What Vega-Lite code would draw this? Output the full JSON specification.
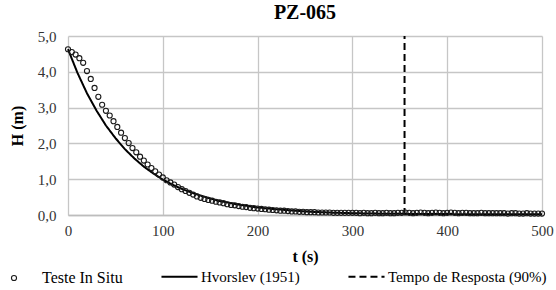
{
"$schema": "https://vega.github.io/schema/vega-lite/v6.json",
"width": 474,
"height": 179,
"autosize": {"type": "none"},
"padding": {"left": 68, "top": 36, "right": 14, "bottom": 75},
"background": "white",
"title": {"text": "PZ-065", "font": "Liberation Serif", "fontSize": 20, "fontWeight": "bold", "color": "black", "anchor": "middle", "offset": 6},
"config": {
  "view": {"stroke": null},
  "axis": {"ticks": false, "labelOverlap": false, "labelFlush": false, "labelFont": "Liberation Serif", "labelFontSize": 15, "labelColor": "#333333", "titleFont": "Liberation Serif", "titleFontSize": 16, "titleFontWeight": "bold", "titleColor": "black"},
  "legend": {"labelFont": "Liberation Serif", "labelFontSize": 15, "labelColor": "black", "title": null}
},
"datasets": {
  "pts": [
{"t":0,"H":4.63},{"t":4,"H":4.55},{"t":8,"H":4.48},{"t":12,"H":4.38},{"t":16,"H":4.25},{"t":20,"H":4.02},{"t":24,"H":3.8},{"t":28,"H":3.55},{"t":32,"H":3.3},{"t":36,"H":3.08},
{"t":40,"H":2.91},{"t":44,"H":2.78},{"t":48,"H":2.62},{"t":52,"H":2.46},{"t":56,"H":2.3},{"t":60,"H":2.15},{"t":64,"H":2.01},{"t":68,"H":1.87},{"t":72,"H":1.75},{"t":76,"H":1.63},
{"t":80,"H":1.52},{"t":84,"H":1.41},{"t":88,"H":1.31},{"t":92,"H":1.22},{"t":96,"H":1.13},{"t":100,"H":1.05},{"t":104,"H":0.97},{"t":108,"H":0.91},{"t":112,"H":0.85},{"t":116,"H":0.78},
{"t":120,"H":0.72},{"t":124,"H":0.67},{"t":128,"H":0.62},{"t":132,"H":0.57},{"t":136,"H":0.52},{"t":140,"H":0.48},{"t":144,"H":0.45},{"t":148,"H":0.42},{"t":152,"H":0.4},{"t":156,"H":0.37},
{"t":160,"H":0.35},{"t":164,"H":0.33},{"t":168,"H":0.3},{"t":172,"H":0.28},{"t":176,"H":0.27},{"t":180,"H":0.25},{"t":184,"H":0.23},{"t":188,"H":0.22},{"t":192,"H":0.2},{"t":196,"H":0.19},
{"t":200,"H":0.18},{"t":204,"H":0.17},{"t":208,"H":0.16},{"t":212,"H":0.15},{"t":216,"H":0.14},{"t":220,"H":0.13},{"t":224,"H":0.12},{"t":228,"H":0.12},{"t":232,"H":0.11},{"t":236,"H":0.1},
{"t":240,"H":0.1},{"t":244,"H":0.09},{"t":248,"H":0.09},{"t":252,"H":0.08},{"t":256,"H":0.08},{"t":260,"H":0.08},{"t":264,"H":0.07},{"t":268,"H":0.07},{"t":272,"H":0.07},{"t":276,"H":0.07},
{"t":280,"H":0.06},{"t":284,"H":0.06},{"t":288,"H":0.06},{"t":292,"H":0.06},{"t":296,"H":0.06},{"t":300,"H":0.06},{"t":304,"H":0.06},{"t":308,"H":0.05},{"t":312,"H":0.06},{"t":316,"H":0.05},
{"t":320,"H":0.05},{"t":324,"H":0.06},{"t":328,"H":0.05},{"t":332,"H":0.05},{"t":336,"H":0.06},{"t":340,"H":0.05},{"t":344,"H":0.05},{"t":348,"H":0.06},{"t":352,"H":0.06},{"t":356,"H":0.07},
{"t":360,"H":0.06},{"t":364,"H":0.05},{"t":368,"H":0.06},{"t":372,"H":0.07},{"t":376,"H":0.06},{"t":380,"H":0.05},{"t":384,"H":0.06},{"t":388,"H":0.07},{"t":392,"H":0.06},{"t":396,"H":0.05},
{"t":400,"H":0.06},{"t":404,"H":0.07},{"t":408,"H":0.06},{"t":412,"H":0.05},{"t":416,"H":0.06},{"t":420,"H":0.06},{"t":424,"H":0.05},{"t":428,"H":0.05},{"t":432,"H":0.05},{"t":436,"H":0.06},
{"t":440,"H":0.05},{"t":444,"H":0.05},{"t":448,"H":0.05},{"t":452,"H":0.05},{"t":456,"H":0.05},{"t":460,"H":0.05},{"t":464,"H":0.04},{"t":468,"H":0.05},{"t":472,"H":0.05},{"t":476,"H":0.04},
{"t":480,"H":0.04},{"t":484,"H":0.05},{"t":488,"H":0.04},{"t":492,"H":0.04},{"t":496,"H":0.04},{"t":500,"H":0.04}
  ],
  "lines": [
{"t":0,"H":4.63,"series":"Hvorslev (1951)"},{"t":10,"H":3.97,"series":"Hvorslev (1951)"},{"t":20,"H":3.4,"series":"Hvorslev (1951)"},{"t":30,"H":2.92,"series":"Hvorslev (1951)"},{"t":40,"H":2.5,"series":"Hvorslev (1951)"},
{"t":50,"H":2.15,"series":"Hvorslev (1951)"},{"t":60,"H":1.84,"series":"Hvorslev (1951)"},{"t":70,"H":1.58,"series":"Hvorslev (1951)"},{"t":80,"H":1.35,"series":"Hvorslev (1951)"},{"t":90,"H":1.16,"series":"Hvorslev (1951)"},
{"t":100,"H":0.99,"series":"Hvorslev (1951)"},{"t":110,"H":0.85,"series":"Hvorslev (1951)"},{"t":120,"H":0.73,"series":"Hvorslev (1951)"},{"t":130,"H":0.63,"series":"Hvorslev (1951)"},{"t":140,"H":0.54,"series":"Hvorslev (1951)"},
{"t":150,"H":0.46,"series":"Hvorslev (1951)"},{"t":160,"H":0.39,"series":"Hvorslev (1951)"},{"t":170,"H":0.34,"series":"Hvorslev (1951)"},{"t":180,"H":0.29,"series":"Hvorslev (1951)"},{"t":190,"H":0.25,"series":"Hvorslev (1951)"},
{"t":200,"H":0.21,"series":"Hvorslev (1951)"},{"t":220,"H":0.16,"series":"Hvorslev (1951)"},{"t":240,"H":0.12,"series":"Hvorslev (1951)"},{"t":260,"H":0.085,"series":"Hvorslev (1951)"},{"t":280,"H":0.065,"series":"Hvorslev (1951)"},
{"t":300,"H":0.05,"series":"Hvorslev (1951)"},{"t":320,"H":0.04,"series":"Hvorslev (1951)"},{"t":340,"H":0.035,"series":"Hvorslev (1951)"},{"t":360,"H":0.03,"series":"Hvorslev (1951)"},{"t":400,"H":0.025,"series":"Hvorslev (1951)"},
{"t":450,"H":0.02,"series":"Hvorslev (1951)"},{"t":500,"H":0.02,"series":"Hvorslev (1951)"},
{"t":355,"H":0,"series":"Tempo de Resposta (90%)"},{"t":355,"H":5,"series":"Tempo de Resposta (90%)"}
  ]
},
"encoding": {
  "x": {"field": "t", "type": "quantitative", "scale": {"domain": [0, 500], "nice": false},
    "axis": {"title": "t (s)", "grid": true, "gridColor": "#c6c6c6", "gridWidth": 1.3, "values": [0, 100, 200, 300, 400, 500], "labelOverlap": false, "labelFlush": false, "domainColor": "#bdbdbd", "domainWidth": 1.3, "labelPadding": 8, "titlePadding": 10}},
  "y": {"field": "H", "type": "quantitative", "scale": {"domain": [0, 5], "nice": false},
    "axis": {"title": "H (m)", "grid": true, "gridColor": "#c6c6c6", "gridWidth": 1.3, "values": [0, 1, 2, 3, 4, 5], "labelOverlap": false, "domain": false, "labelPadding": 12, "titlePadding": 12, "labelExpr": "replace(format(datum.value, '.1f'), '.', ',')"}}
},
"layer": [
  {
    "data": {"name": "lines"},
    "mark": {"type": "line", "color": "black", "strokeWidth": 2},
    "encoding": {
      "strokeDash": {"field": "series", "type": "nominal",
        "scale": {"domain": ["Hvorslev (1951)", "Tempo de Resposta (90%)"], "range": [[1, 0], [7, 4]]},
        "legend": {"orient": "none", "legendX": 92, "legendY": 221, "direction": "horizontal", "symbolType": "stroke", "symbolSize": 1300, "symbolStrokeWidth": 2, "symbolStrokeColor": "black", "labelOffset": 2, "columnPadding": 44}},
      "detail": {"field": "series"}
    }
  },
  {
    "data": {"name": "pts"},
    "mark": {"type": "point", "shape": "circle", "filled": false, "stroke": "#1a1a1a", "strokeWidth": 1.1, "size": 26, "opacity": 1},
    "encoding": {
      "shape": {"datum": "Teste In Situ", "type": "nominal", "scale": {"range": ["circle"]},
        "legend": {"orient": "none", "legendX": -62, "legendY": 234, "symbolSize": 26, "symbolStrokeColor": "#1a1a1a", "symbolFillColor": "transparent", "symbolStrokeWidth": 1.1, "labelOffset": 20, "labelFontSize": 16}}
    }
  }
]
}
